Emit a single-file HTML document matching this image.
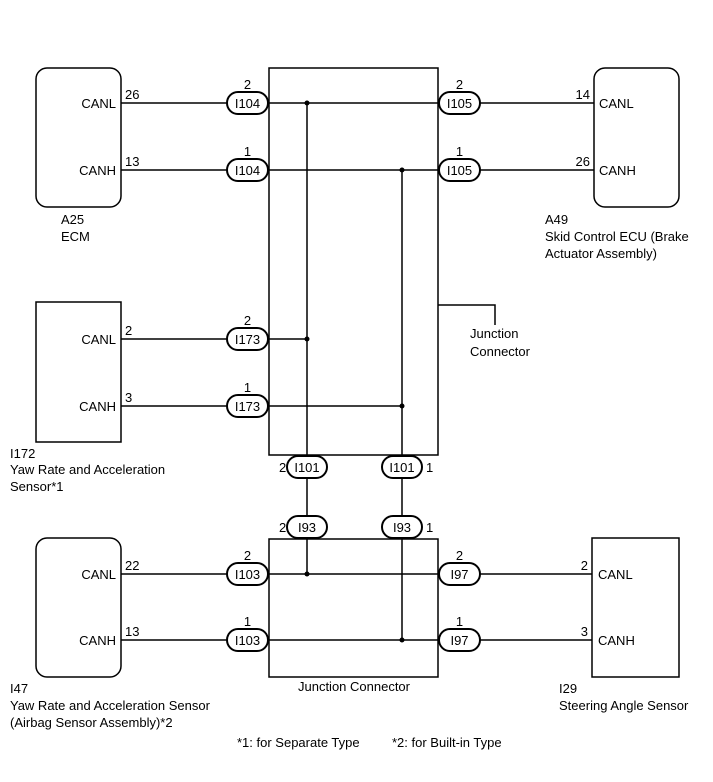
<!DOCTYPE html>
<html><head><style>
html,body{margin:0;padding:0;background:#fff;}
svg{display:block;}
text{font-family:"Liberation Sans",sans-serif;font-size:13px;fill:#000;}
</style></head><body>
<svg width="713" height="782" viewBox="0 0 713 782" xmlns="http://www.w3.org/2000/svg">
<g fill="none" stroke="#000" stroke-width="1.5">
<!-- boxes -->
<rect x="36" y="68" width="85" height="139" rx="11"/>
<rect x="594" y="68" width="85" height="139" rx="11"/>
<rect x="36" y="302" width="85" height="140"/>
<rect x="36" y="538" width="85" height="139" rx="11"/>
<rect x="592" y="538" width="87" height="139"/>
<rect x="269" y="68" width="169" height="387"/>
<rect x="269" y="539" width="169" height="138"/>
<!-- wires -->
<line x1="121" y1="103" x2="594" y2="103"/>
<line x1="121" y1="170" x2="594" y2="170"/>
<line x1="121" y1="339" x2="307" y2="339"/>
<line x1="121" y1="406" x2="402" y2="406"/>
<line x1="121" y1="574" x2="592" y2="574"/>
<line x1="121" y1="640" x2="592" y2="640"/>
<line x1="307" y1="103" x2="307" y2="574"/>
<line x1="402" y1="170" x2="402" y2="640"/>
<polyline points="438,305 495,305 495,325"/>
</g>
<g fill="#000">
<circle cx="307" cy="103" r="2.5"/><circle cx="402" cy="170" r="2.5"/>
<circle cx="307" cy="339" r="2.5"/><circle cx="402" cy="406" r="2.5"/>
<circle cx="307" cy="574" r="2.5"/><circle cx="402" cy="640" r="2.5"/>
</g>
<g fill="#fff" stroke="#000" stroke-width="2">
<rect x="227" y="92" width="41" height="22" rx="11"/>
<rect x="227" y="159" width="41" height="22" rx="11"/>
<rect x="439" y="92" width="41" height="22" rx="11"/>
<rect x="439" y="159" width="41" height="22" rx="11"/>
<rect x="227" y="328" width="41" height="22" rx="11"/>
<rect x="227" y="395" width="41" height="22" rx="11"/>
<rect x="287" y="456" width="40" height="22" rx="11"/>
<rect x="382" y="456" width="40" height="22" rx="11"/>
<rect x="287" y="516" width="40" height="22" rx="11"/>
<rect x="382" y="516" width="40" height="22" rx="11"/>
<rect x="227" y="563" width="41" height="22" rx="11"/>
<rect x="227" y="629" width="41" height="22" rx="11"/>
<rect x="439" y="563" width="41" height="22" rx="11"/>
<rect x="439" y="629" width="41" height="22" rx="11"/>
</g>
<g text-anchor="middle">
<text x="247.5" y="108">I104</text><text x="247.5" y="175">I104</text>
<text x="459.5" y="108">I105</text><text x="459.5" y="175">I105</text>
<text x="247.5" y="344">I173</text><text x="247.5" y="411">I173</text>
<text x="307" y="472">I101</text><text x="402" y="472">I101</text>
<text x="307" y="532">I93</text><text x="402" y="532">I93</text>
<text x="247.5" y="579">I103</text><text x="247.5" y="645">I103</text>
<text x="459.5" y="579">I97</text><text x="459.5" y="645">I97</text>
<text x="247.5" y="89">2</text><text x="247.5" y="156">1</text>
<text x="459.5" y="89">2</text><text x="459.5" y="156">1</text>
<text x="247.5" y="325">2</text><text x="247.5" y="392">1</text>
<text x="247.5" y="560">2</text><text x="247.5" y="626">1</text>
<text x="459.5" y="560">2</text><text x="459.5" y="626">1</text>
<text x="354" y="691">Junction Connector</text>
</g>
<text x="279" y="472">2</text><text x="426" y="472">1</text>
<text x="279" y="532">2</text><text x="426" y="532">1</text>
<g text-anchor="end">
<text x="116" y="108">CANL</text><text x="116" y="175">CANH</text>
<text x="116" y="344">CANL</text><text x="116" y="411">CANH</text>
<text x="116" y="579">CANL</text><text x="116" y="645">CANH</text>
<text x="590" y="99">14</text><text x="590" y="166">26</text>
<text x="588" y="570">2</text><text x="588" y="636">3</text>
</g>
<text x="125" y="99">26</text><text x="125" y="166">13</text>
<text x="125" y="335">2</text><text x="125" y="402">3</text>
<text x="125" y="570">22</text><text x="125" y="636">13</text>
<text x="599" y="108">CANL</text><text x="599" y="175">CANH</text>
<text x="598" y="579">CANL</text><text x="598" y="645">CANH</text>
<text x="61" y="224">A25</text><text x="61" y="241">ECM</text>
<text x="545" y="224">A49</text><text x="545" y="241">Skid Control ECU (Brake</text><text x="545" y="258">Actuator Assembly)</text>
<text x="470" y="338">Junction</text><text x="470" y="356">Connector</text>
<text x="10" y="458">I172</text><text x="10" y="474">Yaw Rate and Acceleration</text><text x="10" y="491">Sensor*1</text>
<text x="10" y="693">I47</text><text x="10" y="710">Yaw Rate and Acceleration Sensor</text><text x="10" y="727">(Airbag Sensor Assembly)*2</text>
<text x="559" y="693">I29</text><text x="559" y="710">Steering Angle Sensor</text>
<text x="237" y="747">*1: for Separate Type</text><text x="392" y="747">*2: for Built-in Type</text>
</svg>
</body></html>
